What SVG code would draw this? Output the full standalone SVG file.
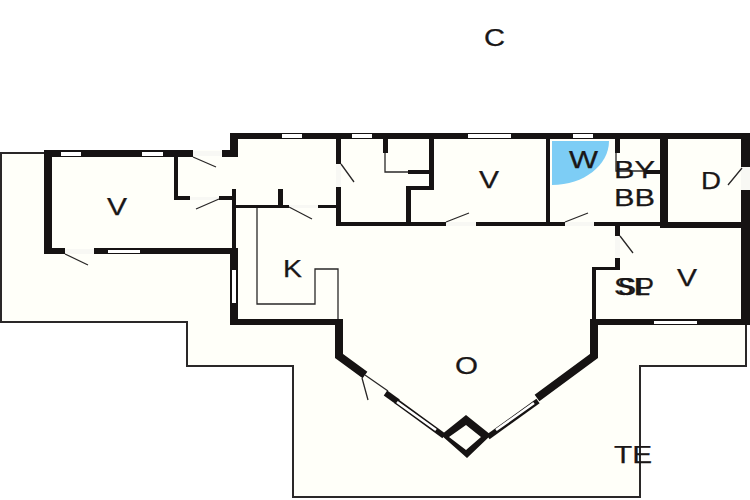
<svg xmlns="http://www.w3.org/2000/svg" width="750" height="500" viewBox="0 0 750 500">
<style>
.w{fill:#161313;stroke:none}
.d{fill:none;stroke:#161313;stroke-linejoin:miter}
.dw{fill:none;stroke:#fff;stroke-width:2.6}
.win{fill:#fff;stroke:none}
.dr{fill:#f8f8f4;stroke:none}
.t{fill:none;stroke:#2a2828;stroke-width:1.3}
.o{fill:none;stroke:#2a2828;stroke-width:2}
text{font-family:"Liberation Sans",Arial,sans-serif;font-size:24px;fill:#1a1717;stroke:#1a1717;stroke-width:.25}
</style>
<rect width="750" height="500" fill="#fff"/>
<path fill="#fffff9" d="M1 153H44V150H230V133H750V325H746V366H640V497H293V366H187V322H1Z"/>
<path fill="#7dcdf5" d="M552 141H609C609 165 584 185 552 185Z"/>
<path class="o" d="M44 153H1V322H187V366H293V497H640V366H746V325"/>
<path class="w" d="M44 150H193V157H52V248H65V254H44Z"/>
<path class="w" d="M222 150H230V133H750V139H238V157H222Z"/>
<rect class="w" x="94" y="248" width="144" height="6"/>
<path class="w" d="M230 248H238V319H343V325H230Z"/>
<rect class="w" x="174" y="157" width="4" height="42"/>
<rect class="w" x="174" y="196" width="16" height="4"/>
<rect class="w" x="219" y="196" width="17" height="4"/>
<rect class="w" x="232" y="189" width="4" height="60"/>
<rect class="w" x="236" y="205" width="53" height="3"/>
<rect class="w" x="318" y="205" width="20" height="3"/>
<rect class="w" x="278" y="189" width="5" height="17"/>
<rect class="w" x="336" y="139" width="5" height="25"/>
<rect class="w" x="336" y="187" width="5" height="39"/>
<rect class="w" x="336" y="222" width="110" height="4"/>
<rect class="w" x="476" y="222" width="89" height="4"/>
<rect class="w" x="594" y="222" width="66" height="4"/>
<rect class="w" x="383" y="139" width="5" height="14"/>
<rect class="w" x="408" y="170" width="26" height="4"/>
<rect class="w" x="429" y="139" width="5" height="51"/>
<rect class="w" x="406" y="186" width="28" height="4"/>
<rect class="w" x="406" y="186" width="5" height="36"/>
<rect class="w" x="546" y="139" width="4" height="84"/>
<rect class="w" x="615" y="139" width="5" height="14"/>
<rect class="w" x="645" y="170" width="15" height="4"/>
<rect class="w" x="660" y="139" width="8" height="87"/>
<rect class="w" x="660" y="222" width="90" height="6"/>
<rect class="w" x="741" y="133" width="9" height="34"/>
<rect class="w" x="741" y="190" width="9" height="135"/>
<rect class="w" x="615" y="226" width="5" height="10"/>
<rect class="w" x="615" y="258" width="5" height="12"/>
<rect class="w" x="592" y="267" width="28" height="3"/>
<rect class="w" x="592" y="267" width="4" height="53"/>
<rect class="w" x="590" y="319" width="160" height="6"/>
<path class="d" stroke-width="8" d="M339 320V356L365 375"/>
<path class="d" stroke-width="8" d="M594 320V356L537 398"/>
<path class="d" stroke-width="6" d="M385.500 393L398 402"/>
<path class="d" stroke-width="5.500" d="M396 401L444 436"/>
<path class="d" stroke-width="5.500" d="M538 401L488 437"/>
<path class="w" fill-rule="evenodd" d="M466 415L491 435L467 458L441 435ZM466 425L449 437L466 450L481 437Z"/>
<path class="dw" d="M397 402L436 430M534 403L496 430"/>
<rect class="win" x="61" y="152" width="20" height="4"/>
<rect class="win" x="142" y="152" width="21" height="4"/>
<rect class="win" x="282" y="134" width="20" height="4"/>
<rect class="win" x="352" y="134" width="20" height="4"/>
<rect class="win" x="468" y="134" width="43" height="4"/>
<rect class="win" x="573" y="134" width="20" height="4"/>
<rect class="win" x="108" y="250" width="32" height="3"/>
<rect class="win" x="232" y="270" width="4" height="33"/>
<rect class="win" x="654" y="321" width="43" height="3"/>
<rect class="dr" x="193" y="151" width="29" height="5"/>
<rect class="dr" x="190" y="197" width="29" height="3"/>
<rect class="dr" x="65" y="249" width="29" height="5"/>
<rect class="dr" x="289" y="205" width="29" height="3"/>
<rect class="dr" x="336" y="164" width="5" height="23"/>
<rect class="dr" x="446" y="222" width="30" height="4"/>
<rect class="dr" x="565" y="222" width="29" height="4"/>
<rect class="dr" x="741" y="167" width="9" height="23"/>
<rect class="dr" x="615" y="236" width="5" height="22"/>
<path class="t" d="M193 157L216 167M219 199L196 209M65 254L88 265M289 207L312 219M341 164L354 182M446 222L469 213M565 222L588 213M742 168L728 185M620 236L633 253M362 378L368 400M365 375L388 391"/>
<path class="t" d="M257 208V304H315V269H338V319M385 153V172H408M616 153V171H645"/>
<text x="484" y="46" textLength="21" lengthAdjust="spacingAndGlyphs">C</text>
<text x="107" y="215" textLength="20" lengthAdjust="spacingAndGlyphs">V</text>
<text x="479" y="188" textLength="20" lengthAdjust="spacingAndGlyphs">V</text>
<text x="677" y="286" textLength="20" lengthAdjust="spacingAndGlyphs">V</text>
<text x="569" y="168" textLength="29" lengthAdjust="spacingAndGlyphs">W</text>
<text x="614" y="178" textLength="41" lengthAdjust="spacingAndGlyphs">BY</text>
<text x="614" y="206" textLength="41" lengthAdjust="spacingAndGlyphs">BB</text>
<text x="701" y="189" textLength="20" lengthAdjust="spacingAndGlyphs">D</text>
<text x="283" y="277" textLength="19" lengthAdjust="spacingAndGlyphs">K</text>
<text x="614" y="295" textLength="36" lengthAdjust="spacingAndGlyphs">SL</text>
<text x="618" y="295" textLength="36" lengthAdjust="spacingAndGlyphs">SP</text>
<text x="455" y="374" textLength="23" lengthAdjust="spacingAndGlyphs">O</text>
<text x="614" y="463" textLength="38" lengthAdjust="spacingAndGlyphs">TE</text>
</svg>
